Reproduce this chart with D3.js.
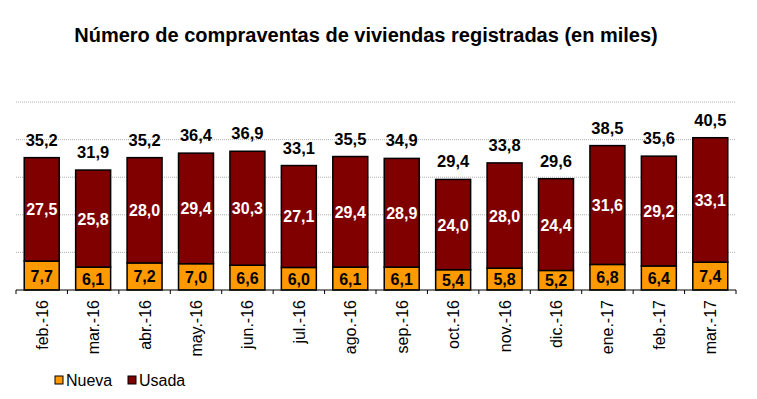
<script src="https://d3js.org/d3.v7.min.js"></script>

<style>
  body { margin: 0; }
</style>

<svg id="chart" width=757 height=399></svg>

<script>
  "use strict";
  const WIDTH = 757;
  const HEIGHT = 399;

  // Data (thousands)
  const months = ["feb.-16", "mar.-16", "abr.-16", "may.-16", "jun.-16", "jul.-16", "ago.-16",
    "sep.-16", "oct.-16", "nov.-16", "dic.-16", "ene.-17", "feb.-17", "mar.-17"];
  const nueva = [7.7, 6.1, 7.2, 7.0, 6.6, 6.0, 6.1, 6.1, 5.4, 5.8, 5.2, 6.8, 6.4, 7.4];
  const usada = [27.5, 25.8, 28.0, 29.4, 30.3, 27.1, 29.4, 28.9, 24.0, 28.0, 24.4, 31.6, 29.2, 33.1];
  const totals = [35.2, 31.9, 35.2, 36.4, 36.9, 33.1, 35.5, 34.9, 29.4, 33.8, 29.6, 38.5, 35.6, 40.5];
  const gridTicks = [10, 20, 30, 40, 50];
  const seriesNames = ["Nueva", "Usada"];

  const COLORS = { Nueva: "#ff9900", Usada: "#800000" };
  const FONT = "'Liberation Sans', Arial, sans-serif";
  const fmt = v => d3.format(".1f")(v).replace(".", ",");

  const svg = d3.select("#chart")
    .style("display", "block")
    .style("background", "#fff")
    .style("font-family", FONT);

  const PLOT_LEFT = 16, PLOT_RIGHT = 736, PLOT_TOP = 102, PLOT_BOTTOM = 290;

  const x = d3.scaleBand()
    .domain(months)
    .range([PLOT_LEFT, PLOT_RIGHT])
    .paddingInner(0.32)
    .paddingOuter(0.16);

  const y = d3.scaleLinear()
    .domain([0, 50])
    .range([PLOT_BOTTOM, PLOT_TOP]);

  // Title
  svg.append("text")
    .attr("x", 366)
    .attr("y", 42)
    .attr("text-anchor", "middle")
    .attr("font-size", 20)
    .attr("font-weight", "bold")
    .text("Número de compraventas de viviendas registradas (en miles)");

  // Gridlines
  svg.append("g")
    .selectAll("line")
    .data(gridTicks)
    .join("line")
    .attr("x1", PLOT_LEFT)
    .attr("x2", PLOT_RIGHT)
    .attr("y1", d => y(d))
    .attr("y2", d => y(d))
    .attr("stroke", "#b0b0b0")
    .attr("stroke-width", 1)
    .attr("stroke-dasharray", "1,1");

  // Stacked bars
  const rows = months.map((m, i) => ({ month: m, Nueva: nueva[i], Usada: usada[i], total: totals[i] }));
  const stacked = d3.stack().keys(seriesNames)(rows);

  const layers = svg.append("g")
    .selectAll("g")
    .data(stacked)
    .join("g")
    .attr("fill", d => COLORS[d.key]);

  layers.selectAll("rect")
    .data(d => d)
    .join("rect")
    .attr("x", d => x(d.data.month))
    .attr("y", d => y(d[1]))
    .attr("width", x.bandwidth())
    .attr("height", d => y(d[0]) - y(d[1]))
    .attr("stroke", "#000")
    .attr("stroke-width", 1.5);

  // Segment labels
  layers.each(function (layer) {
    d3.select(this).selectAll("text")
      .data(layer)
      .join("text")
      .attr("x", d => x(d.data.month) + x.bandwidth() / 2)
      .attr("y", d => (y(d[0]) + y(d[1])) / 2 + 6)
      .attr("text-anchor", "middle")
      .attr("font-size", 16)
      .attr("font-weight", "bold")
      .attr("fill", layer.key === "Usada" ? "#fff" : "#000")
      .text(d => fmt(d.data[layer.key]));
  });

  // Totals above bars
  svg.append("g")
    .selectAll("text")
    .data(rows)
    .join("text")
    .attr("x", d => x(d.month) + x.bandwidth() / 2)
    .attr("y", d => y(d.Nueva + d.Usada) - 12)
    .attr("text-anchor", "middle")
    .attr("font-size", 16.5)
    .attr("font-weight", "bold")
    .attr("fill", "#000")
    .text(d => fmt(d.total));

  // X axis
  const axis = svg.append("g")
    .attr("transform", `translate(0,${PLOT_BOTTOM})`);

  axis.append("line")
    .attr("x1", PLOT_LEFT)
    .attr("x2", PLOT_RIGHT)
    .attr("stroke", "#000")
    .attr("stroke-width", 1);

  axis.selectAll(".tick")
    .data(d3.range(months.length + 1))
    .join("line")
    .attr("class", "tick")
    .attr("x1", i => PLOT_LEFT + i * (PLOT_RIGHT - PLOT_LEFT) / months.length)
    .attr("x2", i => PLOT_LEFT + i * (PLOT_RIGHT - PLOT_LEFT) / months.length)
    .attr("y1", 0)
    .attr("y2", 4)
    .attr("stroke", "#000");

  axis.selectAll(".lab")
    .data(months)
    .join("text")
    .attr("class", "lab")
    .attr("transform", d => `translate(${x(d) + x.bandwidth() / 2 + 6},10) rotate(-90)`)
    .attr("text-anchor", "end")
    .attr("font-size", 16)
    .attr("fill", "#000")
    .text(d => d);

  // Legend
  const legend = svg.append("g")
    .attr("transform", "translate(55,376)");
  const legendX = [0, 73];
  const items = legend.selectAll("g")
    .data(seriesNames)
    .join("g")
    .attr("transform", (d, i) => `translate(${legendX[i]},0)`);
  items.append("rect")
    .attr("width", 8)
    .attr("height", 8)
    .attr("fill", d => COLORS[d])
    .attr("stroke", "#000")
    .attr("stroke-width", 1);
  items.append("text")
    .attr("x", 11)
    .attr("y", 10)
    .attr("font-size", 16)
    .attr("fill", "#000")
    .text(d => d);
</script>
